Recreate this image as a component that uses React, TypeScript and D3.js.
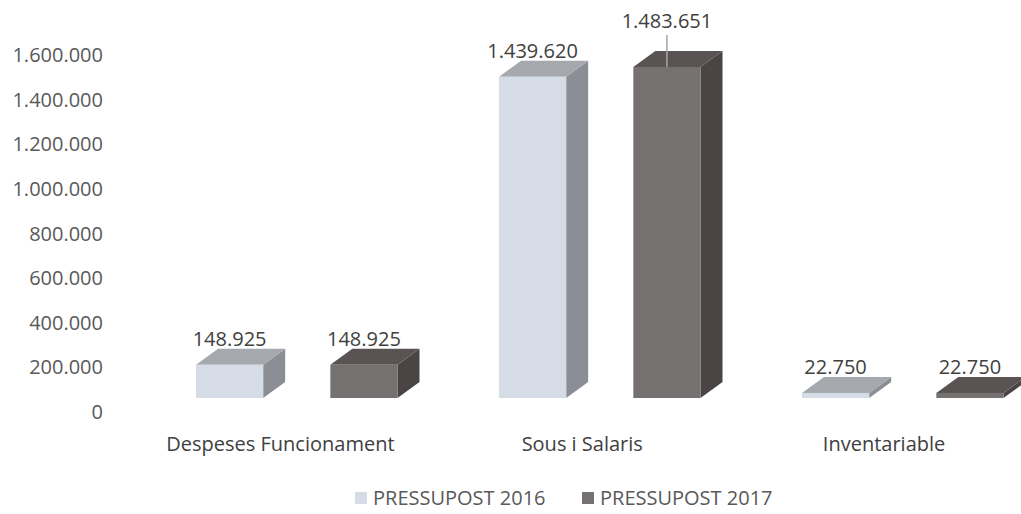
import * as d3 from 'd3'

// Budget chart: 3D clustered columns, two years per category

const categories = ['Despeses Funcionament', 'Sous i Salaris', 'Inventariable']
const seriesNames = ['PRESSUPOST 2016', 'PRESSUPOST 2017']
const values2016 = [148925, 1439620, 22750]
const values2017 = [148925, 1483651, 22750]
const yTicks = [0, 200000, 400000, 600000, 800000, 1000000, 1200000, 1400000, 1600000]

const seriesValues = [values2016, values2017]

// front / top / side shading for each series
const frontColors = ['#d6dce5', '#767171']
const topColors = ['#a5a9ae', '#595453']
const sideColors = ['#8b8f95', '#4a4544']

const WIDTH = 1021
const HEIGHT = 514
const FONT = "'Open Sans', sans-serif"

// 3D look: the back edge is shifted up-right, the front face sits above the axis zero label
const DEPTH_X = 22
const DEPTH_Y = 16
const FLOOR_SHIFT = -14

// the one data label that was dragged up with a leader line
const LIFTED = { category: 'Sous i Salaris', series: 'PRESSUPOST 2017', dy: -20 }

const fmt = d3
  .formatLocale({ decimal: ',', thousands: '.', grouping: [3], currency: ['', '€'] })
  .format(',d')

export default function App() {
  const y = d3.scaleLinear().domain([0, 1600000]).range([412, 55])

  const x0 = d3.scaleBand<string>().domain(categories).range([196, 1105]).padding(0)
  const x1 = d3.scaleBand<string>().domain(seriesNames).range([0, 201.5]).paddingInner(0.5).paddingOuter(0)
  const xLabel = d3.scaleBand<string>().domain(categories).range([129.5, 1035])
  const legendX = d3.scaleBand<string>().domain(seriesNames).range([355, 809])

  const bars = categories.flatMap((cat, ci) =>
    seriesNames.map((s, si) => {
      const v = seriesValues[si][ci]
      const left = (x0(cat) ?? 0) + (x1(s) ?? 0)
      const w = x1.bandwidth()
      const top = y(v) + FLOOR_SHIFT
      const bottom = y(0) + FLOOR_SHIFT
      return { cat, s, si, v, left, w, top, bottom }
    })
  )

  const pts = (p: [number, number][]) => p.map((d) => d.join(',')).join(' ')

  return (
    <svg width={WIDTH} height={HEIGHT} style={{ position: 'absolute', left: 0, top: 0, background: '#fff' }}>
      {/* y axis labels */}
      <g fontFamily={FONT} fontSize={20} fill="#595959" textAnchor="end">
        {yTicks.map((t) => (
          <text key={t} x={103} y={y(t) + 7}>
            {fmt(t)}
          </text>
        ))}
      </g>

      {/* bars */}
      {bars.map((b) => {
        const r = b.left + b.w
        return (
          <g key={b.cat + b.s}>
            <polygon
              points={pts([
                [r, b.top],
                [r + DEPTH_X, b.top - DEPTH_Y],
                [r + DEPTH_X, b.bottom - DEPTH_Y],
                [r, b.bottom],
              ])}
              fill={sideColors[b.si]}
            />
            <polygon
              points={pts([
                [b.left, b.top],
                [r, b.top],
                [r + DEPTH_X, b.top - DEPTH_Y],
                [b.left + DEPTH_X, b.top - DEPTH_Y],
              ])}
              fill={topColors[b.si]}
            />
            <rect x={b.left} y={b.top} width={b.w} height={b.bottom - b.top} fill={frontColors[b.si]} />
          </g>
        )
      })}

      {/* data labels */}
      <g fontFamily={FONT} fontSize={20} fill="#404040" textAnchor="middle">
        {bars.map((b) => {
          const cx = b.left + b.w / 2
          const lifted = b.cat === LIFTED.category && b.s === LIFTED.series
          const baseY = b.top - DEPTH_Y - 3 + (lifted ? LIFTED.dy : 0)
          return (
            <g key={b.cat + b.s}>
              {lifted && <line x1={cx} x2={cx} y1={baseY + 7} y2={b.top} stroke="#a6a6a6" strokeWidth={1.5} />}
              <text x={cx} y={baseY}>
                {fmt(b.v)}
              </text>
            </g>
          )
        })}
      </g>

      {/* category labels */}
      <g fontFamily={FONT} fontSize={20} fill="#404040" textAnchor="middle">
        {categories.map((c) => (
          <text key={c} x={(xLabel(c) ?? 0) + xLabel.bandwidth() / 2} y={451}>
            {c}
          </text>
        ))}
      </g>

      {/* legend */}
      <g fontFamily={FONT} fontSize={20} fill="#595959">
        {seriesNames.map((s, i) => (
          <g key={s} transform={`translate(${legendX(s)},0)`}>
            <rect x={0} y={492} width={12} height={12} fill={frontColors[i]} />
            <text x={18} y={505}>
              {s}
            </text>
          </g>
        ))}
      </g>
    </svg>
  )
}
